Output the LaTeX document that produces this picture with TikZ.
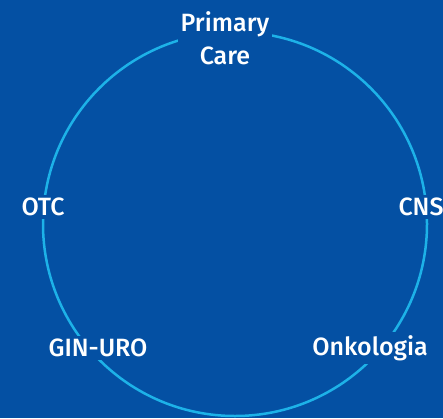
\documentclass[tikz,border=0pt]{standalone}
\usepackage{fontspec}
\setmainfont{Fira Sans}[UprightFont=* Medium]
\definecolor{bgblue}{HTML}{0450A3}
\definecolor{ringblue}{HTML}{1DB2E8}
\tikzset{
 lbl/.style={fill=bgblue, text=white, font=\fontsize{25}{33}\selectfont, inner sep=3pt, align=center},
}
\begin{document}
\begin{tikzpicture}[x=1pt, y=-1pt]
 \fill[bgblue](0,0)rectangle(443,418);
 \useasboundingbox(0,0)rectangle(443,418);
 \coordinate (ctr) at (235,224);
 \draw[ringblue, line width=2.5pt](ctr)circle(192);
 \node[lbl](pc) at (225,38){Primary\\Care};
 \node[lbl](otc) at (43,207){OTC};
 \node[lbl](cns) at (421,207){CNS};
 \node[lbl](gin) at (98,348){GIN-URO};
 \node[lbl](onk) at (370,348){Onkologia};
\end{tikzpicture}
\end{document}
